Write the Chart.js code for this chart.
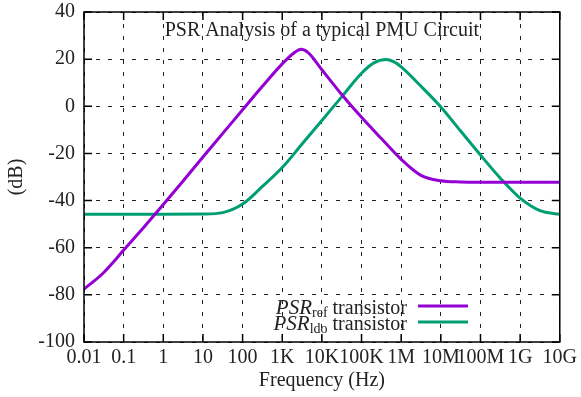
<!DOCTYPE html>
<html>
<head>
<meta charset="utf-8">
<script src="https://cdn.jsdelivr.net/npm/chart.js@4/dist/chart.umd.min.js"></script>
<style>
  html, body { margin: 0; padding: 0; background: #fff; }
  #wrap { width: 581px; height: 397px; }
</style>
</head>
<body>
<div id="wrap"><canvas id="c" width="581" height="397"></canvas></div>
<script>
// PSR curves (frequency in Hz, level in dB)
const refFreq = [0.01, 0.0178, 0.0316, 0.056, 0.1, 0.316, 1, 3.16, 10, 31.6, 100, 316, 1000, 2000, 3000, 4500,
  1e4, 3.16e4, 1e5, 3.16e5, 1e6, 3.16e6, 1e7, 3.16e7, 1e8, 1e9, 1e10];
const refDb = [-77.5, -74.2, -70.5, -66, -61, -51.5, -41.7, -31.7, -21.5, -11.5, -1.5, 8.5, 18, 22.7, 24.2, 22.8,
  15.5, 5, -4.7, -13.7, -22.5, -29.3, -31.6, -32.1, -32.2, -32.2, -32.2];

const ldoFreq = [0.01, 0.1, 1, 10, 31.6, 100, 316, 1000, 3160, 1e4, 3.16e4, 1e5, 2e5, 4.2e5, 7e5,
  1e6, 3.16e6, 1e7, 3.16e7, 1e8, 3.16e8, 1e9, 3.16e9, 1e10];
const ldoDb = [-45.8, -45.8, -45.8, -45.7, -45.1, -41.5, -34, -26, -16, -6, 4, 14, 18.3, 19.8, 18.6,
  16.7, 8.5, -0.3, -10.5, -20.7, -30.5, -39, -44.3, -45.8];

const xTicks = [0.01, 0.1, 1, 10, 100, 1e3, 1e4, 1e5, 1e6, 1e7, 1e8, 1e9, 1e10];
const xTickLabels = ['0.01', '0.1', '1', '10', '100', '1K', '10K', '100K', '1M', '10M', '100M', '1G', '10G'];
const yTicks = [-100, -80, -60, -40, -20, 0, 20, 40];

const seriesNames = ['ref', 'ldo'];
const seriesColors = ['#9400d3', '#009e73'];

const SERIF = '"Liberation Serif", "DejaVu Serif", serif';

// title, frame, inward ticks and legend drawn the gnuplot way
const gnuplotFrame = {
  id: 'gnuplotFrame',
  afterDraw(chart) {
    const ctx = chart.ctx;
    const a = chart.chartArea;
    const xs = chart.scales.x, ys = chart.scales.y;
    ctx.save();

    // border
    ctx.strokeStyle = '#000';
    ctx.lineWidth = 1.5;
    ctx.setLineDash([]);
    ctx.strokeRect(a.left, a.top, a.right - a.left, a.bottom - a.top);

    // inward ticks on all sides
    ctx.beginPath();
    xTicks.forEach(v => {
      const px = xs.getPixelForValue(v);
      ctx.moveTo(px, a.bottom); ctx.lineTo(px, a.bottom - 8);
      ctx.moveTo(px, a.top); ctx.lineTo(px, a.top + 8);
    });
    yTicks.forEach(v => {
      const py = ys.getPixelForValue(v);
      ctx.moveTo(a.left, py); ctx.lineTo(a.left + 8, py);
      ctx.moveTo(a.right, py); ctx.lineTo(a.right - 8, py);
    });
    ctx.stroke();

    // title inside the frame
    ctx.fillStyle = '#222';
    ctx.font = '20px ' + SERIF;
    ctx.textAlign = 'center';
    ctx.textBaseline = 'alphabetic';
    ctx.fillText('PSR Analysis of a typical PMU Circuit', (a.left + a.right) / 2, 36);

    // legend, bottom right, text right-aligned before the line sample
    const textRight = 407;
    const lineStart = 418, lineEnd = 468;
    const rowY = [306, 322];
    seriesNames.forEach((sub, i) => {
      const y = rowY[i];
      ctx.font = '20px ' + SERIF;
      const wTail = ctx.measureText(' transistor').width;
      ctx.font = '14px ' + SERIF;
      const wSub = ctx.measureText(sub).width;
      ctx.font = 'italic 21px ' + SERIF;
      const wPsr = ctx.measureText('PSR').width;
      let x = textRight - wTail - wSub - wPsr;
      ctx.textAlign = 'left';
      ctx.fillStyle = '#222';
      ctx.fillText('PSR', x, y + 8);
      x += wPsr;
      ctx.font = '14px ' + SERIF;
      ctx.fillText(sub, x, y + 11);
      x += wSub;
      ctx.font = '20px ' + SERIF;
      ctx.fillText(' transistor', x, y + 8);

      ctx.strokeStyle = seriesColors[i];
      ctx.lineWidth = 3;
      ctx.beginPath();
      ctx.moveTo(lineStart, y);
      ctx.lineTo(lineEnd, y);
      ctx.stroke();
    });

    ctx.restore();
  }
};

new Chart(document.getElementById('c'), {
  type: 'line',
  data: {
    datasets: [
      {
        label: 'PSR ref transistor',
        data: refFreq.map((f, i) => ({ x: f, y: refDb[i] })),
        borderColor: seriesColors[0],
        borderWidth: 3,
        pointRadius: 0,
        cubicInterpolationMode: 'monotone'
      },
      {
        label: 'PSR ldo transistor',
        data: ldoFreq.map((f, i) => ({ x: f, y: ldoDb[i] })),
        borderColor: seriesColors[1],
        borderWidth: 3,
        pointRadius: 0,
        cubicInterpolationMode: 'monotone'
      }
    ]
  },
  options: {
    responsive: false,
    animation: false,
    layout: { padding: { left: 0, right: 18, top: 0, bottom: 0 } },
    plugins: {
      legend: { display: false },
      title: { display: false },
      tooltip: { enabled: false }
    },
    scales: {
      x: {
        type: 'logarithmic',
        min: 0.01,
        max: 1e10,
        afterBuildTicks(scale) {
          scale.ticks = xTicks.map(v => ({ value: v }));
        },
        afterFit(scale) { scale.height = 55; },
        ticks: {
          autoSkip: false,
          maxRotation: 0,
          padding: 4,
          color: '#222',
          font: { family: SERIF, size: 20 },
          callback: (v, i) => xTickLabels[i]
        },
        grid: { color: '#222', lineWidth: 1, drawTicks: false },
        border: { display: false, dash: [4, 8] },
        title: {
          display: true,
          text: 'Frequency (Hz)',
          color: '#222',
          font: { family: SERIF, size: 20 },
          padding: { top: 0, bottom: 4 }
        }
      },
      y: {
        type: 'linear',
        min: -100,
        max: 40,
        afterBuildTicks(scale) {
          scale.ticks = yTicks.map(v => ({ value: v }));
        },
        afterFit(scale) {
          scale.width = 84;
          scale.paddingTop = 12;
        },
        ticks: {
          padding: 9,
          color: '#222',
          font: { family: SERIF, size: 20 }
        },
        grid: { color: '#222', lineWidth: 1, drawTicks: false },
        border: { display: false, dash: [4, 8] },
        title: {
          display: true,
          text: '(dB)',
          color: '#222',
          font: { family: SERIF, size: 20 },
          padding: { top: 5, bottom: 0 }
        }
      }
    }
  },
  plugins: [gnuplotFrame]
});
</script>
</body>
</html>
